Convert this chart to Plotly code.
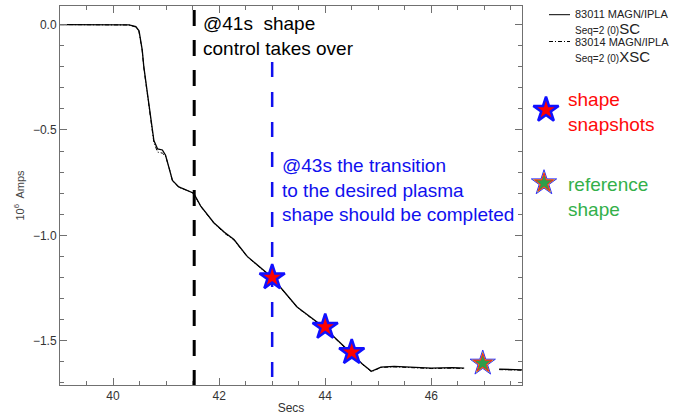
import plotly.graph_objects as go

# ---- data ----
time_83011 = [39.0, 39.5, 40.0, 40.3, 40.43, 40.49, 40.55, 40.58, 40.65, 40.71, 40.77, 40.84,
              40.93, 40.99, 41.05, 41.12, 41.24, 41.40, 41.52, 41.65, 41.90, 42.10, 42.28,
              42.53, 42.84, 43.0, 43.47, 43.97, 44.47, 44.70, 44.87, 45.05, 45.30, 45.70,
              46.0, 46.40, 46.62, None, 47.28, 47.71]
amps_83011 = [0.0, 0.0, 0.0, -0.002, -0.01, -0.03, -0.12, -0.20, -0.33, -0.44, -0.55, -0.59,
              -0.595, -0.62, -0.67, -0.74, -0.77, -0.785, -0.80, -0.86, -0.94, -0.985, -1.02,
              -1.10, -1.165, -1.20, -1.34, -1.435, -1.555, -1.61, -1.645, -1.625, -1.622, -1.628,
              -1.63, -1.628, -1.63, None, -1.635, -1.638]

time_83014 = [39.0, 39.5, 40.0, 40.3, 40.43, 40.49, 40.55, 40.58, 40.65, 40.71, 40.77, 40.84,
              40.93, 40.99, 41.05, 41.12, 41.24, 41.40, 41.52, 41.65, 41.90, 42.10, 42.28,
              42.53, 42.84, 43.0, 43.47, 43.97, 44.47, 44.70, 44.87, 45.05, 45.30, 45.70,
              46.0, 46.40, 46.62, None, 47.28, 47.71]
amps_83014 = [0.0, 0.0, 0.0, -0.002, -0.012, -0.035, -0.125, -0.205, -0.335, -0.445, -0.56, -0.605,
              -0.61, -0.625, -0.672, -0.742, -0.772, -0.787, -0.802, -0.862, -0.942, -0.99, -1.022,
              -1.102, -1.167, -1.202, -1.342, -1.437, -1.557, -1.612, -1.647, -1.627, -1.624, -1.63,
              -1.632, -1.63, -1.632, None, -1.637, -1.64]

snapshot_times = [43.0, 44.0, 44.5]
snapshot_amps = [-1.20, -1.435, -1.555]
reference_time = [46.97]
reference_amp = [-1.607]

shape_control_time = 41.53
transition_time = 43.0

x_range = [39.0, 47.71]
y_range = [-1.71, 0.088]
font = "Arial, 'Liberation Sans', Helvetica, sans-serif"

snap_marker = dict(symbol="star", size=19, color="#ff0000", line=dict(color="#1010ff", width=2.5))
ref_outer = dict(symbol="star", size=19, color="#ffee00", line=dict(color="#3030ff", width=1))
ref_inner = dict(symbol="star", size=14, color="#2e9e4a", line=dict(color="#ff2020", width=1))

fig = go.Figure()

# vertical dashed lines
fig.add_trace(go.Scatter(x=[shape_control_time, shape_control_time], y=[0.069, y_range[0]],
                         mode="lines", line=dict(color="black", width=3, dash="16px,14px"),
                         showlegend=False, hoverinfo="skip"))
fig.add_trace(go.Scatter(x=[transition_time, transition_time], y=[-0.178, y_range[0]],
                         mode="lines", line=dict(color="#1010ee", width=2.5, dash="15px,15px"),
                         showlegend=False, hoverinfo="skip"))

# curves
fig.add_trace(go.Scatter(x=time_83014, y=amps_83014, mode="lines",
                         line=dict(color="black", width=1, dash="4px,2px,1px,2px"),
                         showlegend=False))
fig.add_trace(go.Scatter(x=time_83011, y=amps_83011, mode="lines",
                         line=dict(color="black", width=1.3), showlegend=False))

# stars on the curve
fig.add_trace(go.Scatter(x=snapshot_times, y=snapshot_amps, mode="markers",
                         marker=snap_marker, showlegend=False))
fig.add_trace(go.Scatter(x=reference_time, y=reference_amp, mode="markers",
                         marker=ref_outer, showlegend=False))
fig.add_trace(go.Scatter(x=reference_time, y=reference_amp, mode="markers",
                         marker=ref_inner, showlegend=False))

# legend-area stars (pixel overlay axes)
fig.add_trace(go.Scatter(x=[546], y=[110], xaxis="x2", yaxis="y2", mode="markers",
                         marker=snap_marker, showlegend=False, hoverinfo="skip"))
fig.add_trace(go.Scatter(x=[544], y=[183], xaxis="x2", yaxis="y2", mode="markers",
                         marker=ref_outer, showlegend=False, hoverinfo="skip"))
fig.add_trace(go.Scatter(x=[544], y=[183], xaxis="x2", yaxis="y2", mode="markers",
                         marker=ref_inner, showlegend=False, hoverinfo="skip"))

# legend sample lines
fig.add_trace(go.Scatter(x=[549, 570], y=[14.7, 14.7], xaxis="x2", yaxis="y2", mode="lines",
                         line=dict(color="black", width=1), showlegend=False, hoverinfo="skip"))
fig.add_trace(go.Scatter(x=[549, 570], y=[41.5, 41.5], xaxis="x2", yaxis="y2", mode="lines",
                         line=dict(color="black", width=1, dash="4px,2px,1px,2px"),
                         showlegend=False, hoverinfo="skip"))

axis_common = dict(showline=True, linecolor="#707070", linewidth=1, mirror="allticks",
                   ticks="inside", ticklen=7, tickcolor="#707070", showgrid=False,
                   zeroline=False, tickfont=dict(family=font, size=12, color="#333333"))

fig.update_layout(
    width=677, height=415,
    margin=dict(l=60, r=0, t=6, b=30),
    paper_bgcolor="white", plot_bgcolor="rgba(0,0,0,0)",
    font=dict(family=font, color="#333333"),
    xaxis=dict(domain=[0, 0.7488], range=x_range, tick0=40, dtick=2,
               minor=dict(dtick=0.5, ticks="inside", ticklen=4, tickcolor="#707070"),
               title=dict(text="Secs", font=dict(size=12), standoff=2), **axis_common),
    yaxis=dict(range=y_range, tick0=0, dtick=0.5, tickformat=".1f",
               minor=dict(dtick=0.1, ticks="inside", ticklen=4, tickcolor="#707070"),
               title=dict(text="10<sup>6</sup>  Amps", font=dict(size=11, color="#444444"),
                          standoff=6),
               **axis_common),
    xaxis2=dict(domain=[0, 1], range=[60, 677], anchor="y2", visible=False, fixedrange=True),
    yaxis2=dict(domain=[0, 1], range=[385, 6], anchor="x2", visible=False, fixedrange=True),
)

ann = []
ann.append(dict(x=41.66, y=-0.054, xref="x", yref="y", xanchor="left", yanchor="middle",
                align="left", showarrow=False,
                text="@41s\u00a0 shape<br>control takes over",
                font=dict(family=font, size=19, color="black")))
ann.append(dict(x=43.14, y=-0.785, xref="x", yref="y", xanchor="left", yanchor="middle",
                align="left", showarrow=False,
                text="@43s the transition<br>to the desired plasma<br>shape should be completed",
                font=dict(family=font, size=19, color="#1010ee")))
ann.append(dict(x=566, y=112, xref="x2", yref="y2", xanchor="left", yanchor="middle",
                align="left", showarrow=False, text="shape<br>snapshots",
                font=dict(family=font, size=19, color="#ff0a0a")))
ann.append(dict(x=566, y=197, xref="x2", yref="y2", xanchor="left", yanchor="middle",
                align="left", showarrow=False, text="reference<br>shape",
                font=dict(family=font, size=19, color="#33b04a")))
for ytxt, top, big in [(14, "83011 MAGN/IPLA", "SC"), (41.5, "83014 MAGN/IPLA", "XSC")]:
    ann.append(dict(x=573, y=ytxt, xref="x2", yref="y2", xanchor="left", yanchor="middle",
                    showarrow=False, text=top,
                    font=dict(family=font, size=11, color="#222222")))
    ann.append(dict(x=573, y=ytxt + 14.5, xref="x2", yref="y2", xanchor="left", yanchor="middle",
                    showarrow=False,
                    text="<span style='font-size:10px'>Seq=2 (0)</span>" + big,
                    font=dict(family=font, size=15, color="#222222")))
fig.update_layout(annotations=ann)

fig.write_html("out.html", config={"displayModeBar": False},
               post_script="document.body.style.margin='0';")
